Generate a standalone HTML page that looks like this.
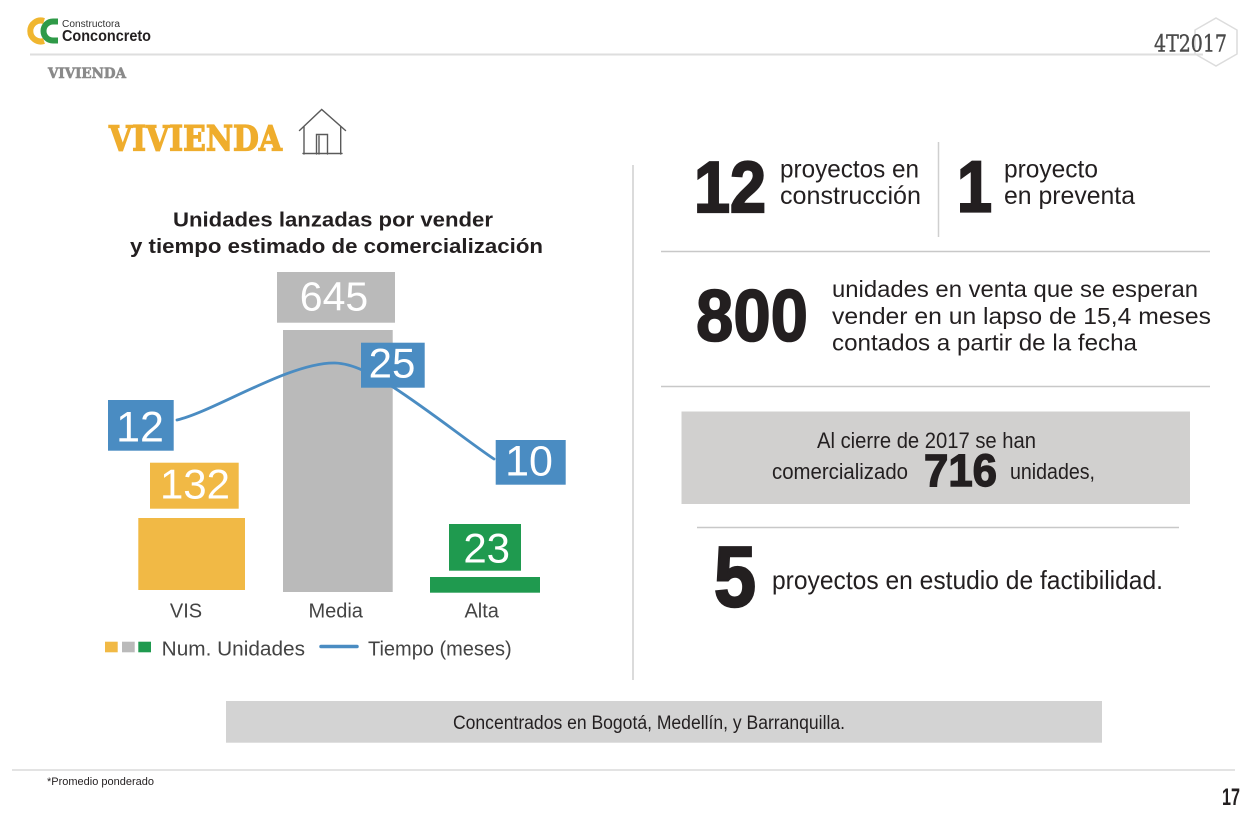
<!DOCTYPE html>
<html>
<head>
<meta charset="utf-8">
<style>
  html,body{margin:0;padding:0;background:#fff;}
  body{width:1257px;height:816px;overflow:hidden;}
  svg{display:block;}
  .sans{font-family:"Liberation Sans", Arial, sans-serif;}
  .serif{font-family:"DejaVu Serif", "Liberation Serif", serif;}
</style>
</head>
<body>
<svg width="1257" height="816" viewBox="0 0 1257 816" xmlns="http://www.w3.org/2000/svg">
  <rect x="0" y="0" width="1257" height="816" fill="#ffffff"/>

  <!-- ===== Header ===== -->
  <path d="M44 21 A10.5 10.5 0 1 0 44 41" fill="none" stroke="#f0b62f" stroke-width="6"/>
  <path d="M58 21.5 L53 21.5 A9.5 9.5 0 0 0 53 40.5 L58 40.5" fill="none" stroke="#2f9a48" stroke-width="6"/>
  <text x="62" y="27" class="sans" font-size="10" fill="#333" textLength="58" lengthAdjust="spacingAndGlyphs">Constructora</text>
  <text x="62" y="41" class="sans" font-size="16" font-weight="bold" fill="#231f20" textLength="89" lengthAdjust="spacingAndGlyphs">Conconcreto</text>

  <line x1="30" y1="54.5" x2="1203" y2="54.5" stroke="#dedede" stroke-width="2"/>
  <polygon points="1216,18 1237,30 1237,54 1216,66 1195,54 1195,30" fill="none" stroke="#dcdcdc" stroke-width="1.5"/>
  <text x="1154" y="51.5" class="serif" font-size="23" fill="#4a4a4a" stroke="#4a4a4a" stroke-width="0.4" textLength="73" lengthAdjust="spacingAndGlyphs">4T2017</text>

  <text x="48" y="78" class="serif" font-size="14" font-weight="bold" fill="#8a8a8a" stroke="#8a8a8a" stroke-width="0.6" textLength="78" lengthAdjust="spacingAndGlyphs">VIVIENDA</text>

  <!-- ===== Big title ===== -->
  <text x="109" y="150.5" class="serif" font-size="35" font-weight="bold" fill="#efad2d" stroke="#efad2d" stroke-width="1.3" textLength="173" lengthAdjust="spacingAndGlyphs">VIVIENDA</text>
  <g fill="none" stroke="#5a5a5a" stroke-width="1.4" stroke-linecap="round">
    <polyline points="299.5,130.5 321.7,109.5 345.5,130.5"/>
    <line x1="304" y1="127" x2="304" y2="154"/>
    <line x1="340.7" y1="127" x2="340.7" y2="154"/>
    <line x1="303" y1="153.5" x2="342" y2="153.5"/>
    <polyline points="316.5,154 316.5,134.5 327.5,134.5 327.5,154"/>
    <line x1="319" y1="136" x2="319" y2="154"/>
  </g>

  <!-- ===== Chart title ===== -->
  <text x="173" y="226.5" class="sans" font-size="20" font-weight="bold" fill="#231f20" textLength="320" lengthAdjust="spacingAndGlyphs">Unidades lanzadas por vender</text>
  <text x="130" y="253" class="sans" font-size="20" font-weight="bold" fill="#231f20" textLength="413" lengthAdjust="spacingAndGlyphs">y tiempo estimado de comercialización</text>

  <!-- ===== Bars ===== -->
  <rect x="138.3" y="518" width="106.7" height="72" fill="#f1b945"/>
  <rect x="283" y="330" width="109.7" height="262" fill="#bababa"/>
  <rect x="430" y="577" width="110" height="15.7" fill="#1f9a4f"/>

  <rect x="150" y="462.7" width="88.7" height="46" fill="#f1b945"/>
  <text x="195" y="498.7" text-anchor="middle" class="sans" font-size="42" fill="#ffffff">132</text>
  <rect x="277" y="272" width="118" height="50.7" fill="#bababa"/>
  <text x="334" y="310.7" text-anchor="middle" class="sans" font-size="41" fill="#ffffff">645</text>
  <rect x="449" y="524" width="72" height="46.7" fill="#1f9a4f"/>
  <text x="486.7" y="562.7" text-anchor="middle" class="sans" font-size="42" fill="#ffffff">23</text>

  <path d="M177,420 C215,411 290,362 335,363 C353,363.5 372,374 393,387 C430,411 470,443 494,459" fill="none" stroke="#4a8cc2" stroke-width="2.8" stroke-linecap="round"/>

  <rect x="108" y="400" width="65.7" height="50.7" fill="#4a8cc2"/>
  <text x="140" y="441.7" text-anchor="middle" class="sans" font-size="43" fill="#ffffff">12</text>
  <rect x="361" y="342.7" width="63.7" height="45" fill="#4a8cc2"/>
  <text x="392" y="377.3" text-anchor="middle" class="sans" font-size="42" fill="#ffffff">25</text>
  <rect x="495.7" y="440" width="70" height="44.7" fill="#4a8cc2"/>
  <text x="529" y="475.7" text-anchor="middle" class="sans" font-size="43" fill="#ffffff">10</text>

  <text x="186" y="617.7" text-anchor="middle" class="sans" font-size="20" fill="#444">VIS</text>
  <text x="335.7" y="617.7" text-anchor="middle" class="sans" font-size="20" fill="#444">Media</text>
  <text x="481.7" y="617.7" text-anchor="middle" class="sans" font-size="20" fill="#444">Alta</text>

  <rect x="105" y="641.7" width="12.7" height="10.6" fill="#f1b945"/>
  <rect x="122" y="641.7" width="12.7" height="10.6" fill="#bababa"/>
  <rect x="138.3" y="641.7" width="12.7" height="10.6" fill="#1f9a4f"/>
  <text x="161.7" y="655.7" class="sans" font-size="20" fill="#444" textLength="143.3" lengthAdjust="spacingAndGlyphs">Num. Unidades</text>
  <line x1="321" y1="646.5" x2="357" y2="646.5" stroke="#4a8cc2" stroke-width="3.5" stroke-linecap="round"/>
  <text x="368" y="655.7" class="sans" font-size="20" fill="#444" textLength="143.7" lengthAdjust="spacingAndGlyphs">Tiempo (meses)</text>

  <!-- ===== Divider ===== -->
  <line x1="633" y1="165" x2="633" y2="680" stroke="#cfcfcf" stroke-width="1.5"/>

  <!-- ===== Right panel ===== -->
  <text x="694" y="212" class="sans" font-size="72" font-weight="bold" fill="#231f20" stroke="#231f20" stroke-width="2.2" textLength="72" lengthAdjust="spacingAndGlyphs">12</text>
  <text x="780" y="177.5" class="sans" font-size="25" fill="#231f20" textLength="139" lengthAdjust="spacingAndGlyphs">proyectos en</text>
  <text x="780" y="204" class="sans" font-size="25" fill="#231f20" textLength="141" lengthAdjust="spacingAndGlyphs">construcción</text>
  <line x1="938.5" y1="142" x2="938.5" y2="237" stroke="#cfcfcf" stroke-width="1.5"/>
  <text x="957" y="211.7" class="sans" font-size="72" font-weight="bold" fill="#231f20" stroke="#231f20" stroke-width="2.2" textLength="35" lengthAdjust="spacingAndGlyphs">1</text>
  <text x="1004" y="177.5" class="sans" font-size="25" fill="#231f20" textLength="94" lengthAdjust="spacingAndGlyphs">proyecto</text>
  <text x="1004" y="204" class="sans" font-size="25" fill="#231f20" textLength="131" lengthAdjust="spacingAndGlyphs">en  preventa</text>

  <line x1="661" y1="251.5" x2="1210" y2="251.5" stroke="#c8c8c8" stroke-width="1.5"/>

  <text x="696" y="341" class="sans" font-size="73" font-weight="bold" fill="#231f20" stroke="#231f20" stroke-width="1.6" textLength="112" lengthAdjust="spacingAndGlyphs">800</text>
  <text x="832" y="297" class="sans" font-size="23" fill="#231f20" textLength="366" lengthAdjust="spacingAndGlyphs">unidades en venta que se esperan</text>
  <text x="832" y="324" class="sans" font-size="23" fill="#231f20" textLength="379" lengthAdjust="spacingAndGlyphs">vender  en  un  lapso  de 15,4 meses</text>
  <text x="832" y="350.5" class="sans" font-size="23" fill="#231f20" textLength="305" lengthAdjust="spacingAndGlyphs">contados a partir de la fecha</text>

  <line x1="661" y1="386.5" x2="1210" y2="386.5" stroke="#c8c8c8" stroke-width="1.5"/>

  <rect x="681.5" y="411.5" width="508.5" height="92.5" fill="#d1d0cf"/>
  <text x="817" y="448" class="sans" font-size="22" fill="#231f20" textLength="219" lengthAdjust="spacingAndGlyphs">Al cierre de 2017 se han</text>
  <text x="772" y="479" class="sans" font-size="22" fill="#231f20" textLength="136" lengthAdjust="spacingAndGlyphs">comercializado</text>
  <text x="924" y="486" class="sans" font-size="45" font-weight="bold" fill="#231f20" stroke="#231f20" stroke-width="1.4" textLength="73" lengthAdjust="spacingAndGlyphs">716</text>
  <text x="1010" y="479" class="sans" font-size="22" fill="#231f20" textLength="85" lengthAdjust="spacingAndGlyphs">unidades,</text>

  <line x1="697" y1="527.5" x2="1179" y2="527.5" stroke="#c8c8c8" stroke-width="1.5"/>

  <text x="714" y="606" class="sans" font-size="85" font-weight="bold" fill="#231f20" stroke="#231f20" stroke-width="2.4" textLength="42" lengthAdjust="spacingAndGlyphs">5</text>
  <text x="772" y="589" class="sans" font-size="26" fill="#231f20" textLength="391" lengthAdjust="spacingAndGlyphs">proyectos en estudio de factibilidad.</text>

  <!-- ===== Bottom box ===== -->
  <rect x="226" y="701" width="876" height="41.7" fill="#d3d3d3"/>
  <text x="453" y="729" class="sans" font-size="19" fill="#231f20" textLength="392" lengthAdjust="spacingAndGlyphs">Concentrados en Bogotá, Medellín, y Barranquilla.</text>

  <!-- ===== Footer ===== -->
  <line x1="12" y1="770" x2="1235" y2="770" stroke="#e3e3e3" stroke-width="2"/>
  <text x="47" y="785" class="sans" font-size="11" fill="#231f20" textLength="107" lengthAdjust="spacingAndGlyphs">*Promedio ponderado</text>
  <text x="1222" y="805" class="sans" font-size="24" font-weight="bold" fill="#231f20" textLength="18" lengthAdjust="spacingAndGlyphs">17</text>
</svg>
</body>
</html>
